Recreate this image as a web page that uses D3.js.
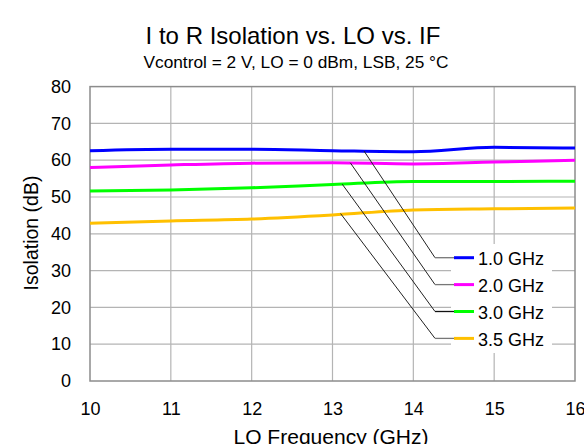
<!DOCTYPE html>
<html><head><meta charset="utf-8">
<script src="https://cdn.jsdelivr.net/npm/d3@7"></script>
<style>body{margin:0;background:#fff}svg{display:block}text{font-family:"Liberation Sans",Arial,sans-serif;fill:#000}</style>
</head><body><svg id="c" width="584" height="444"></svg>
<script>
const freqs = [10, 11, 12, 13, 14, 15, 16];
const seriesNames = ["1.0 GHz", "2.0 GHz", "3.0 GHz", "3.5 GHz"];
const iso1p0 = [62.6, 63.0, 63.0, 62.6, 62.3, 63.5, 63.3];
const iso2p0 = [58.0, 58.7, 59.2, 59.3, 59.0, 59.5, 60.0];
const iso3p0 = [51.6, 51.9, 52.5, 53.4, 54.2, 54.2, 54.3];
const iso3p5 = [42.9, 43.5, 44.0, 45.1, 46.5, 46.8, 47.0];
const seriesColors = ["#0000ff", "#ff00ff", "#00ff00", "#ffc000"];
const leaderX = [13.39, 13.22, 13.12, 13.10];
const leaderY = [62.5, 59.3, 53.5, 45.5];
const xTicks = [10, 11, 12, 13, 14, 15, 16];
const yTicks = [0, 10, 20, 30, 40, 50, 60, 70, 80];

const allSeries = [iso1p0, iso2p0, iso3p0, iso3p5];
const svg = d3.select("#c");
const L = 90, R = 575, T = 86.6, B = 381;
const x = d3.scaleLinear().domain([10, 16]).range([L, R]);
const y = d3.scaleLinear().domain([0, 80]).range([B, T]);

// grid
svg.append("g").selectAll("line").data(xTicks.slice(1, -1)).join("line")
  .attr("x1", d => x(d)).attr("x2", d => x(d)).attr("y1", T).attr("y2", B)
  .attr("stroke", "#b4b4b4").attr("stroke-width", 1.2);
svg.append("g").selectAll("line").data(yTicks.slice(1, -1)).join("line")
  .attr("x1", L).attr("x2", R).attr("y1", d => y(d)).attr("y2", d => y(d))
  .attr("stroke", "#b4b4b4").attr("stroke-width", 1.2);
// frame
svg.append("rect").attr("x", L).attr("y", T).attr("width", R - L).attr("height", B - T)
  .attr("fill", "none").attr("stroke", "#8c8c8c").attr("stroke-width", 1.5);

// axes labels via d3 axes
const xAxis = svg.append("g").attr("transform", `translate(0,${B})`)
  .call(d3.axisBottom(x).tickValues(xTicks).tickSize(0).tickPadding(21).tickFormat(d3.format("d")));
xAxis.select(".domain").remove();
xAxis.selectAll("text").attr("font-size", 18).attr("font-family", "Liberation Sans, Arial");
const yAxis = svg.append("g").attr("transform", `translate(${L},0)`)
  .call(d3.axisLeft(y).tickValues(yTicks).tickSize(0).tickPadding(19).tickFormat(d3.format("d")));
yAxis.select(".domain").remove();
yAxis.selectAll("text").attr("font-size", 18).attr("font-family", "Liberation Sans, Arial");

// lines
const line = d3.line().x((d, i) => x(freqs[i])).y(d => y(d)).curve(d3.curveMonotoneX);
allSeries.forEach((s, k) => {
  svg.append("path").attr("d", line(s)).attr("fill", "none")
    .attr("stroke", seriesColors[k]).attr("stroke-width", 3);
});

// legend box
const legY0 = 257.7, legDy = 26.9;
svg.append("rect").attr("x", 451).attr("y", 244).attr("width", 101).attr("height", 109).attr("fill", "#fff");
seriesNames.forEach((n, k) => {
  const ly = legY0 + k * legDy;
  svg.append("line").attr("x1", x(leaderX[k])).attr("y1", y(leaderY[k])).attr("x2", 435).attr("y2", ly)
    .attr("stroke", "#222").attr("stroke-width", 1);
  svg.append("line").attr("x1", 435).attr("y1", ly).attr("x2", 454).attr("y2", ly)
    .attr("stroke", k === 2 ? "#111" : "#777").attr("stroke-width", 1.3);
  svg.append("line").attr("x1", 454).attr("y1", ly).attr("x2", 474).attr("y2", ly)
    .attr("stroke", seriesColors[k]).attr("stroke-width", 3);
  svg.append("text").attr("x", 478).attr("y", ly + 7.5).attr("font-size", 18).text(n);
});

// titles
svg.append("text").attr("x", 293).attr("y", 44).attr("text-anchor", "middle").attr("font-size", 24)
  .text("I to R Isolation  vs. LO vs. IF");
svg.append("text").attr("x", 296).attr("y", 68.3).attr("text-anchor", "middle").attr("font-size", 17.3)
  .text("Vcontrol = 2 V, LO = 0 dBm, LSB, 25 °C");
svg.append("text").attr("x", 331).attr("y", 443.5).attr("text-anchor", "middle").attr("font-size", 20)
  .attr("textLength", 195).attr("lengthAdjust", "spacingAndGlyphs")
  .text("LO Frequency (GHz)");
svg.append("text").attr("transform", `translate(38,233) rotate(-90)`).attr("text-anchor", "middle")
  .attr("font-size", 19.5)
  .text("Isolation (dB)");
</script></body></html>
